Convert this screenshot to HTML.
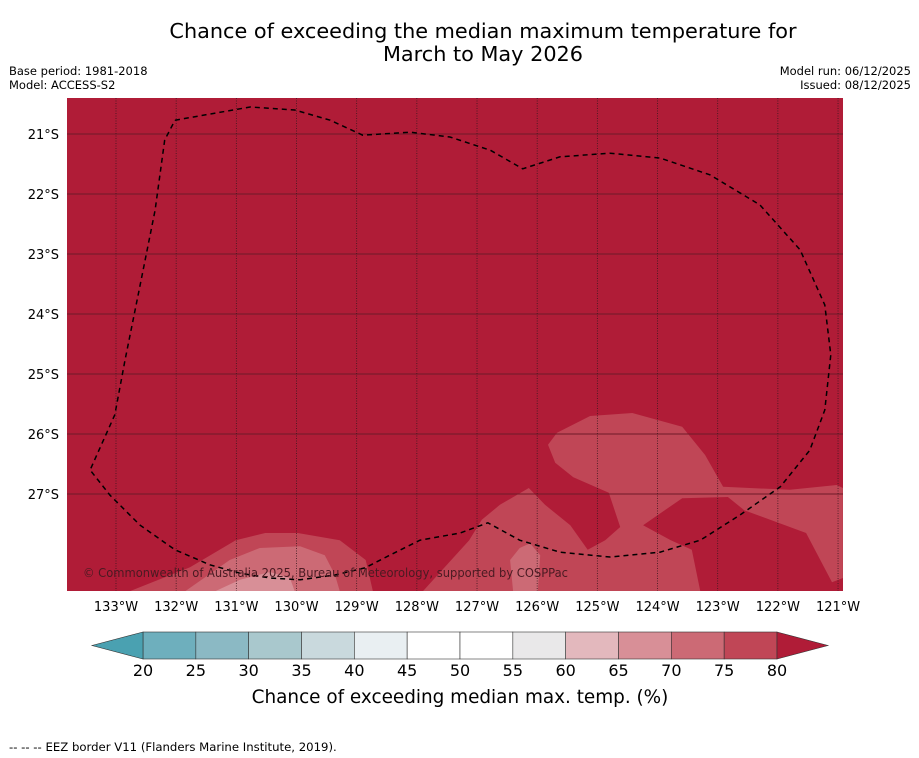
<!DOCTYPE html>
<html><head><meta charset="utf-8"><style>
body{margin:0;background:#fff;font-family:"DejaVu Sans","Liberation Sans",sans-serif;}
svg{display:block}
</style></head><body>
<svg width="919" height="758" viewBox="0 0 919 758" font-family="DejaVu Sans, Liberation Sans, sans-serif">
<text x="483" y="38" font-size="20.8" text-anchor="middle">Chance of exceeding the median maximum temperature for</text>
<text x="483" y="61" font-size="20.8" text-anchor="middle">March to May 2026</text>
<text x="9" y="75" font-size="11.5">Base period: 1981-2018</text>
<text x="9" y="89" font-size="11.5">Model: ACCESS-S2</text>
<text x="911" y="75" font-size="11.5" text-anchor="end">Model run: 06/12/2025</text>
<text x="911" y="89" font-size="11.5" text-anchor="end">Issued: 08/12/2025</text>
<defs><clipPath id="mc"><rect x="67" y="98" width="776" height="493"/></clipPath></defs>
<g id="map" clip-path="url(#mc)">
<rect x="67" y="98" width="776" height="493" fill="#b01c37"/>
</g>
<g id="axes"></g>
<g id="cbar"></g>
<text x="460" y="703" font-size="18.4" text-anchor="middle">Chance of exceeding median max. temp. (%)</text>
<text x="9" y="751" font-size="11.7">--  --  -- EEZ border V11 (Flanders Marine Institute, 2019).</text>
</svg>
<script>
const lonTicks=[-133,-132,-131,-130,-129,-128,-127,-126,-125,-124,-123,-122,-121];
const latTicks=[-21,-22,-23,-24,-25,-26,-27];
const eezLon=[-132.02,-130.77,-130.03,-129.44,-128.90,-128.11,-127.45,-126.78,-126.24,-125.62,-124.79,-123.96,-123.13,-122.30,-121.63,-121.22,-121.12,-121.22,-121.47,-121.96,-122.63,-123.29,-123.96,-124.79,-125.62,-126.29,-126.82,-127.28,-127.95,-128.45,-128.86,-129.36,-129.94,-130.44,-130.94,-131.44,-132.02,-132.60,-133.10,-133.43,-133.02,-132.85,-132.60,-132.35,-132.19,-132.02];
const eezLat=[-20.77,-20.55,-20.60,-20.77,-21.02,-20.97,-21.05,-21.27,-21.58,-21.38,-21.32,-21.40,-21.68,-22.18,-22.93,-23.85,-24.68,-25.60,-26.27,-26.88,-27.35,-27.77,-27.97,-28.05,-27.97,-27.77,-27.48,-27.65,-27.77,-28.02,-28.23,-28.35,-28.43,-28.40,-28.32,-28.18,-27.93,-27.52,-27.02,-26.60,-25.68,-24.77,-23.52,-22.27,-21.10,-20.77];
const zoneALon=[-127.90,-127.13,-126.92,-126.62,-126.14,-125.87,-125.45,-125.16,-124.87,-124.62,-124.81,-125.40,-125.70,-125.82,-125.67,-125.12,-124.42,-123.59,-123.21,-122.91,-121.80,-121.02,-120.92,-120.92,-121.10,-121.53,-122.56,-122.83,-123.59,-124.24,-123.78,-123.43,-123.29];
const zoneALat=[-28.62,-27.77,-27.43,-27.18,-26.90,-27.18,-27.52,-27.93,-27.77,-27.55,-26.98,-26.72,-26.48,-26.18,-25.98,-25.70,-25.65,-25.88,-26.35,-26.88,-26.93,-26.85,-26.90,-28.40,-28.47,-27.65,-27.27,-27.05,-27.07,-27.52,-27.77,-27.93,-28.62];
const zoneBLon=[-132.77,-131.77,-131.01,-130.52,-129.98,-129.28,-128.85,-128.73];
const zoneBLat=[-28.62,-28.22,-27.77,-27.65,-27.65,-27.77,-28.10,-28.62];
const zoneCLon=[-131.85,-131.11,-130.61,-129.94,-129.53,-129.36,-129.28];
const zoneCLat=[-28.62,-28.10,-27.90,-27.87,-28.02,-28.35,-28.62];
const zoneDLon=[-131.35,-130.94,-130.44,-130.11,-130.03];
const zoneDLat=[-28.62,-28.43,-28.30,-28.40,-28.62];
const zoneELon=[-126.40,-126.45,-126.29,-126.12,-125.95,-125.99];
const zoneELat=[-28.62,-28.10,-27.90,-27.82,-28.02,-28.62];
const cbTicks=[20,25,30,35,40,45,50,55,60,65,70,75,80];
const cbColors=['#6eafbd','#8bb9c4','#a9c8cd','#c9d9dd','#e9eff2','#ffffff','#ffffff','#e9e8e9','#e3b8bd','#d88f97','#cc6a75','#c04656'];

const NS='http://www.w3.org/2000/svg';
const X=lon=>116+(lon+133)*60.17;
const Y=lat=>134+(-21-lat)*60;
const CX=v=>143+(v-20)*(634/60);
const map=document.getElementById('map'),axes=document.getElementById('axes'),cb=document.getElementById('cbar');
function mk(t,a,p){const e=document.createElementNS(NS,t);for(const k in a)e.setAttribute(k,a[k]);p.appendChild(e);return e;}
function pts(lo,la){return lo.map((v,i)=>X(v).toFixed(1)+','+Y(la[i]).toFixed(1)).join(' ');}
const zones=[[zoneALon,zoneALat,'#c04656','contour-70-75-east'],[zoneBLon,zoneBLat,'#c04656','contour-70-75-west'],[zoneCLon,zoneCLat,'#cc6a75','contour-65-70-west'],[zoneDLon,zoneDLat,'#d88f97','contour-60-65-west'],[zoneELon,zoneELat,'#cc6a75','contour-65-70-central']];
zones.forEach(z=>{const p=mk('polygon',{points:pts(z[0],z[1]),fill:z[2],'stroke-linejoin':'round'},map);

});
latTicks.forEach(l=>{const g=mk('line',{x1:67,x2:843,y1:Y(l),y2:Y(l),stroke:'#6e1a28','stroke-width':1},map);

});
lonTicks.forEach(l=>{const g=mk('line',{x1:X(l),x2:X(l),y1:98,y2:591,stroke:'#3a1a20','stroke-width':0.8,'stroke-dasharray':'1,1.5'},map);

});
const eez=mk('polyline',{points:pts(eezLon,eezLat),fill:'none',stroke:'#000','stroke-width':1.5,'stroke-dasharray':'5,4'},map);


const cr=mk('text',{x:83,y:577,'font-size':12,fill:'#4a1a22',textLength:485,lengthAdjust:'spacingAndGlyphs'},map);cr.textContent='© Commonwealth of Australia 2025, Bureau of Meteorology, supported by COSPPac';


latTicks.forEach(l=>{const t=mk('text',{x:59,y:Y(l)+5,'font-size':13,'text-anchor':'end'},axes);t.textContent=(-l)+'°S';

});
lonTicks.forEach(l=>{const t=mk('text',{x:X(l),y:611,'font-size':13,'text-anchor':'middle'},axes);t.textContent=(-l)+'°W';

});
cbColors.forEach((c,i)=>{const r=mk('rect',{x:CX(cbTicks[i]),y:632,width:CX(cbTicks[i+1])-CX(cbTicks[i]),height:27,fill:c,stroke:'#333','stroke-width':0.6},cb);

});
const lo=mk('polygon',{points:`${CX(20)},632 92,645.5 ${CX(20)},659`,fill:'#4aa1b1',stroke:'#333','stroke-width':0.6},cb);


const hi=mk('polygon',{points:`${CX(80)},632 828,645.5 ${CX(80)},659`,fill:'#b01c37',stroke:'#333','stroke-width':0.6},cb);


cbTicks.forEach(v=>{const t=mk('text',{x:CX(v),y:676,'font-size':16,'text-anchor':'middle'},cb);t.textContent=v;

});
</script>
</body></html>
